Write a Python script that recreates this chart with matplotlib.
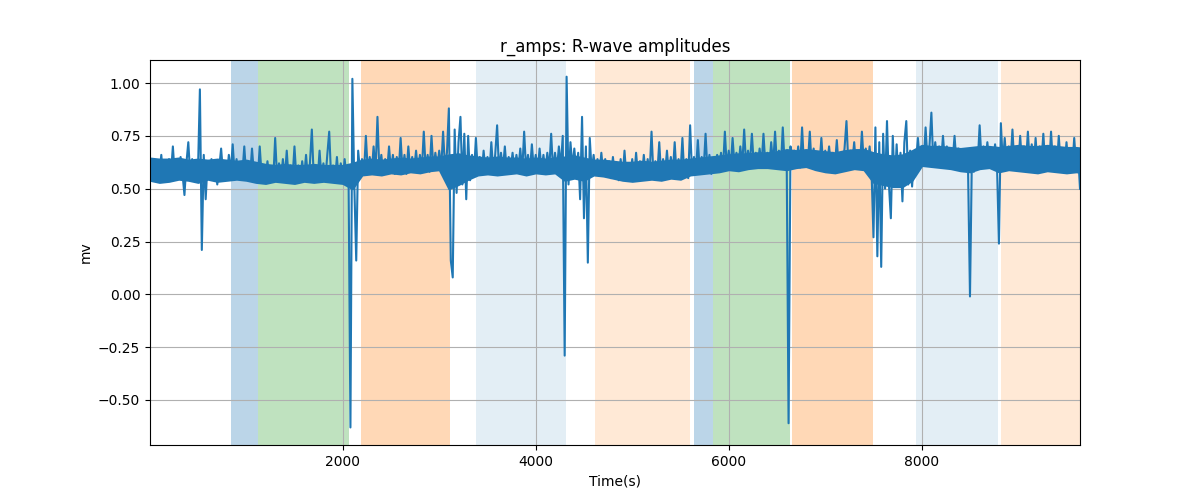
import numpy as np
import matplotlib
matplotlib.use('Agg')
import matplotlib.pyplot as plt

# R-wave amplitude samples, one every 20 s
r_amps = [
    0.60, 0.56, 0.64, 0.55, 0.63, 0.57, 0.66, 0.55, 0.62, 0.56, 0.64, 0.57, 0.70, 0.56, 0.63, 0.55, 0.65, 0.57, 0.47, 0.62, 0.72, 0.56, 0.64, 0.57, 0.63,
    0.58, 0.97, 0.21, 0.66, 0.45, 0.63, 0.56, 0.64, 0.57, 0.62, 0.52, 0.60, 0.69, 0.57, 0.63, 0.56, 0.66, 0.58, 0.71, 0.57, 0.64, 0.55, 0.62, 0.57, 0.70,
    0.56, 0.63, 0.56, 0.69, 0.57, 0.62, 0.55, 0.70, 0.56, 0.61, 0.54, 0.63, 0.55, 0.60, 0.54, 0.74, 0.55, 0.62, 0.54, 0.64, 0.55, 0.68, 0.54, 0.61, 0.55,
    0.70, 0.55, 0.61, 0.54, 0.63, 0.55, 0.66, 0.54, 0.62, 0.78, 0.55, 0.61, 0.54, 0.68, 0.55, 0.62, 0.54, 0.66, 0.77, 0.55, 0.61, 0.54, 0.65, 0.53, 0.62,
    0.54, 0.64, 0.55, 0.60, -0.63, 1.02, 0.52, 0.16, 0.68, 0.58, 0.64, 0.57, 0.75, 0.58, 0.65, 0.57, 0.70, 0.58, 0.84, 0.58, 0.66, 0.57, 0.64, 0.58, 0.70,
    0.58, 0.66, 0.57, 0.65, 0.58, 0.74, 0.58, 0.66, 0.57, 0.70, 0.58, 0.65, 0.59, 0.68, 0.58, 0.66, 0.59, 0.77, 0.59, 0.66, 0.58, 0.75, 0.59, 0.67, 0.60,
    0.68, 0.59, 0.77, 0.60, 0.67, 0.88, 0.16, 0.08, 0.78, 0.48, 0.72, 0.84, 0.52, 0.76, 0.45, 0.75, 0.54, 0.66, 0.57, 0.74, 0.58, 0.65, 0.57, 0.68, 0.58,
    0.65, 0.57, 0.72, 0.58, 0.66, 0.80, 0.58, 0.67, 0.59, 0.70, 0.58, 0.65, 0.59, 0.67, 0.58, 0.66, 0.59, 0.69, 0.58, 0.77, 0.59, 0.66, 0.58, 0.71, 0.59,
    0.66, 0.58, 0.69, 0.59, 0.66, 0.58, 0.67, 0.59, 0.76, 0.58, 0.67, 0.59, 0.70, 0.60, 0.75, -0.29, 1.03, 0.52, 0.72, 0.60, 0.69, 0.58, 0.67, 0.45, 0.84,
    0.36, 0.70, 0.15, 0.74, 0.58, 0.66, 0.57, 0.64, 0.56, 0.67, 0.57, 0.64, 0.56, 0.63, 0.55, 0.65, 0.56, 0.62, 0.54, 0.64, 0.55, 0.68, 0.55, 0.62, 0.56,
    0.64, 0.55, 0.67, 0.56, 0.63, 0.55, 0.66, 0.56, 0.64, 0.57, 0.77, 0.56, 0.63, 0.57, 0.72, 0.56, 0.64, 0.57, 0.68, 0.56, 0.65, 0.57, 0.72, 0.56, 0.64,
    0.57, 0.74, 0.56, 0.64, 0.55, 0.80, 0.57, 0.65, 0.58, 0.73, 0.58, 0.65, 0.59, 0.76, 0.58, 0.66, 0.57, 0.64, 0.58, 0.66, 0.59, 0.67, 0.59, 0.77, 0.60,
    0.68, 0.60, 0.74, 0.61, 0.67, 0.60, 0.70, 0.61, 0.78, 0.61, 0.68, 0.62, 0.76, 0.61, 0.67, 0.60, 0.69, 0.61, 0.76, 0.61, 0.67, 0.60, 0.72, 0.61, 0.77,
    0.61, 0.68, 0.60, 0.79, 0.61, 0.68, -0.61, 0.70, 0.61, 0.68, 0.62, 0.70, 0.60, 0.79, 0.61, 0.68, 0.62, 0.77, 0.60, 0.69, 0.59, 0.67, 0.61, 0.74, 0.60,
    0.68, 0.61, 0.70, 0.60, 0.67, 0.61, 0.73, 0.60, 0.67, 0.61, 0.69, 0.82, 0.61, 0.68, 0.62, 0.72, 0.60, 0.68, 0.61, 0.77, 0.62, 0.69, 0.61, 0.70, 0.58,
    0.27, 0.79, 0.18, 0.72, 0.13, 0.76, 0.50, 0.82, 0.52, 0.36, 0.75, 0.51, 0.71, 0.52, 0.67, 0.44, 0.72, 0.82, 0.52, 0.68, 0.51, 0.66, 0.62, 0.74, 0.63,
    0.68, 0.62, 0.79, 0.63, 0.70, 0.86, 0.62, 0.72, 0.63, 0.70, 0.62, 0.75, 0.63, 0.70, 0.62, 0.68, 0.63, 0.75, 0.62, 0.69, 0.60, 0.68, 0.61, 0.67, 0.59,
    -0.01, 0.66, 0.58, 0.68, 0.62, 0.80, 0.63, 0.70, 0.62, 0.72, 0.63, 0.69, 0.62, 0.71, 0.61, 0.24, 0.81, 0.62, 0.74, 0.61, 0.70, 0.62, 0.78, 0.61, 0.69,
    0.60, 0.75, 0.61, 0.70, 0.62, 0.77, 0.61, 0.71, 0.60, 0.74, 0.61, 0.70, 0.62, 0.76, 0.61, 0.69, 0.60, 0.77, 0.61, 0.70, 0.60, 0.75, 0.61, 0.69, 0.60,
    0.72, 0.61, 0.68, 0.60, 0.74, 0.61, 0.67, 0.50,
]
time_s = np.arange(len(r_amps)) * 20

# dense beat-to-beat band (lower / upper edge every 100 s)
band_low = [
    0.540, 0.530, 0.535, 0.545, 0.540, 0.530, 0.545, 0.535, 0.540, 0.545,
    0.540, 0.530, 0.525, 0.535, 0.530, 0.525, 0.535, 0.530, 0.535, 0.530,
    0.525, 0.500, 0.565, 0.570, 0.565, 0.575, 0.570, 0.580, 0.575, 0.585,
    0.590, 0.500, 0.520, 0.545, 0.565, 0.570, 0.565, 0.570, 0.575, 0.565,
    0.575, 0.570, 0.575, 0.540, 0.550, 0.540, 0.565, 0.560, 0.550, 0.540,
    0.535, 0.540, 0.545, 0.540, 0.550, 0.545, 0.565, 0.570, 0.575, 0.580,
    0.590, 0.585, 0.595, 0.600, 0.600, 0.595, 0.590, 0.600, 0.605, 0.590,
    0.580, 0.575, 0.585, 0.595, 0.590, 0.530, 0.520, 0.510, 0.510, 0.540,
    0.610, 0.605, 0.600, 0.595, 0.585, 0.580, 0.595, 0.600, 0.580, 0.590,
    0.585, 0.580, 0.575, 0.585, 0.580, 0.575, 0.580, 0.575,
]
band_high = [
    0.645, 0.640, 0.640, 0.645, 0.635, 0.640, 0.635, 0.640, 0.635, 0.630,
    0.635, 0.625, 0.615, 0.610, 0.615, 0.610, 0.610, 0.615, 0.610, 0.610,
    0.610, 0.620, 0.635, 0.640, 0.635, 0.640, 0.645, 0.640, 0.645, 0.650,
    0.650, 0.660, 0.665, 0.655, 0.650, 0.645, 0.650, 0.645, 0.645, 0.640,
    0.645, 0.640, 0.645, 0.650, 0.655, 0.645, 0.635, 0.635, 0.630, 0.625,
    0.625, 0.630, 0.625, 0.630, 0.635, 0.635, 0.640, 0.645, 0.650, 0.655,
    0.660, 0.665, 0.665, 0.670, 0.670, 0.675, 0.685, 0.680, 0.685, 0.680,
    0.675, 0.670, 0.680, 0.685, 0.685, 0.670, 0.660, 0.655, 0.660, 0.680,
    0.705, 0.700, 0.700, 0.695, 0.690, 0.695, 0.700, 0.700, 0.695, 0.700,
    0.705, 0.700, 0.700, 0.705, 0.700, 0.695, 0.695, 0.690,
]
band_t = np.arange(len(band_low)) * 100

# shaded segments: (start, end, colour, alpha)
span_start = [839, 1119, 2187, 3378, 4611, 5637, 5834, 6653, 7938, 8819]
span_end = [1119, 2062, 3109, 4311, 5596, 5834, 6632, 7492, 8788, 9640]
span_color = ['C0', 'C2', 'C1', 'C0', 'C1', 'C0', 'C2', 'C1', 'C0', 'C1']
span_alpha = [0.3, 0.3, 0.3, 0.12, 0.17, 0.3, 0.3, 0.3, 0.12, 0.17]

fig, ax = plt.subplots(figsize=(12, 5), dpi=100)

for s, e, c, a in zip(span_start, span_end, span_color, span_alpha):
    ax.axvspan(s, e, color=c, alpha=a, lw=0)

ax.fill_between(band_t, band_low, band_high, color='C0', lw=1.5, zorder=2)
ax.plot(time_s, r_amps, color='C0', lw=1.5, zorder=2)
ax.set(xlabel='Time(s)', ylabel='mv', title='r_amps: R-wave amplitudes')
ax.grid(True)
ax.set_xlim(3, 9640)
ax.set_ylim(-0.713, 1.109)

fig.savefig('out.png')
